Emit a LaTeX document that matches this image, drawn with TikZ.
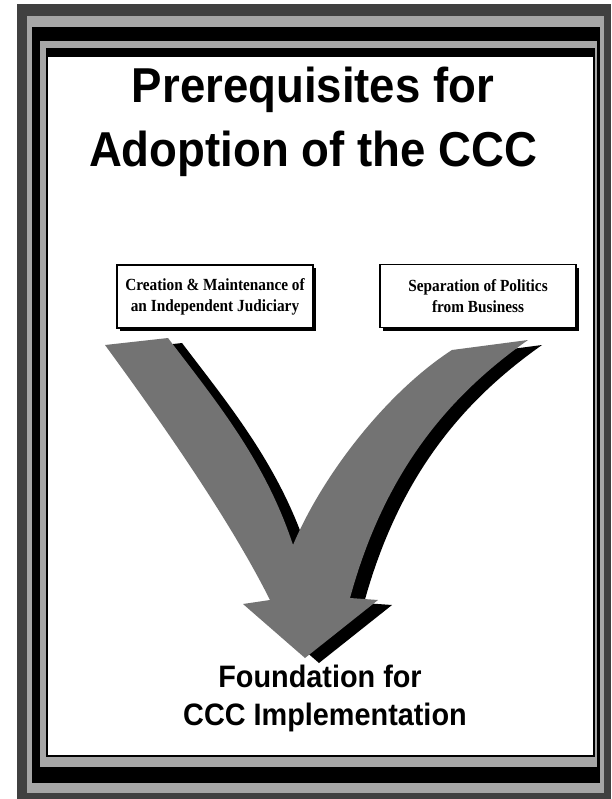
\documentclass[tikz,border=0pt]{standalone}
\usepackage{fontspec}
\setmainfont{Liberation Serif}
\newfontfamily\headfont{Liberation Sans}[FakeStretch=0.93]
\newfontfamily\boxfont{Liberation Serif}[FakeStretch=0.9]
\usetikzlibrary{shadows}

\begin{document}
\begin{tikzpicture}
  [x=1pt,y=-1pt,every node/.style={inner sep=0pt}]
  \tikzstyle{title} = [anchor=base,font=\headfont\bfseries\fontsize{49}{60}\selectfont]
  \tikzstyle{footer} = [anchor=base,font=\headfont\bfseries\fontsize{31}{38}\selectfont]
  \tikzstyle{premise} = [draw,line width=1.5pt,fill=white,align=center,
    minimum width=196pt,minimum height=63pt,
    drop shadow={shadow xshift=3pt,shadow yshift=-3pt,fill=black,opacity=1},
    font=\boxfont\bfseries\fontsize{17}{21}\selectfont]
  \def\vshape{(105,345) -- (168,338)
    .. controls (215,400) and (265,460) .. (293,545)
    .. controls (325,470) and (390,390) .. (452,350)
    -- (528,340)
    .. controls (450,395) and (385,470) .. (350,598)
    -- (378,600) -- (305,658) -- (243,604) -- (270,600)
    .. controls (230,520) and (160,420) .. (105,345) -- cycle}

  \useasboundingbox (0,0) rectangle (611,799);
  \fill[white] (0,0) rectangle (611,799);

  % frame
  \fill[black!75] (17,4) rectangle (611,799);
  \fill[black!35] (27,16) rectangle (604,793);
  \fill[black] (32,27) rectangle (600,783);
  \fill[black!35] (40,41) rectangle (597,767);
  \fill[black] (46,48) rectangle (595,757);
  \fill[white] (48,57) rectangle (593,755);

  \node[title] (titleA) at (313,103) {Prerequisites for};
  \node[title] (titleB) at (313,167) {Adoption of the CCC};

  \node[premise] (judiciary) at (215,296.5) {Creation \& Maintenance of\\an Independent Judiciary};
  \node[premise] (politics) at (478,296) {Separation of Politics\\from Business};

  % the V arrow
  \fill[black,shift={(14,5)}] \vshape;
  \fill[black!55] \vshape;

  \node[footer] (foundA) at (320,687) {Foundation for};
  \node[footer] (foundB) at (325,725) {CCC Implementation};
\end{tikzpicture}
\end{document}
